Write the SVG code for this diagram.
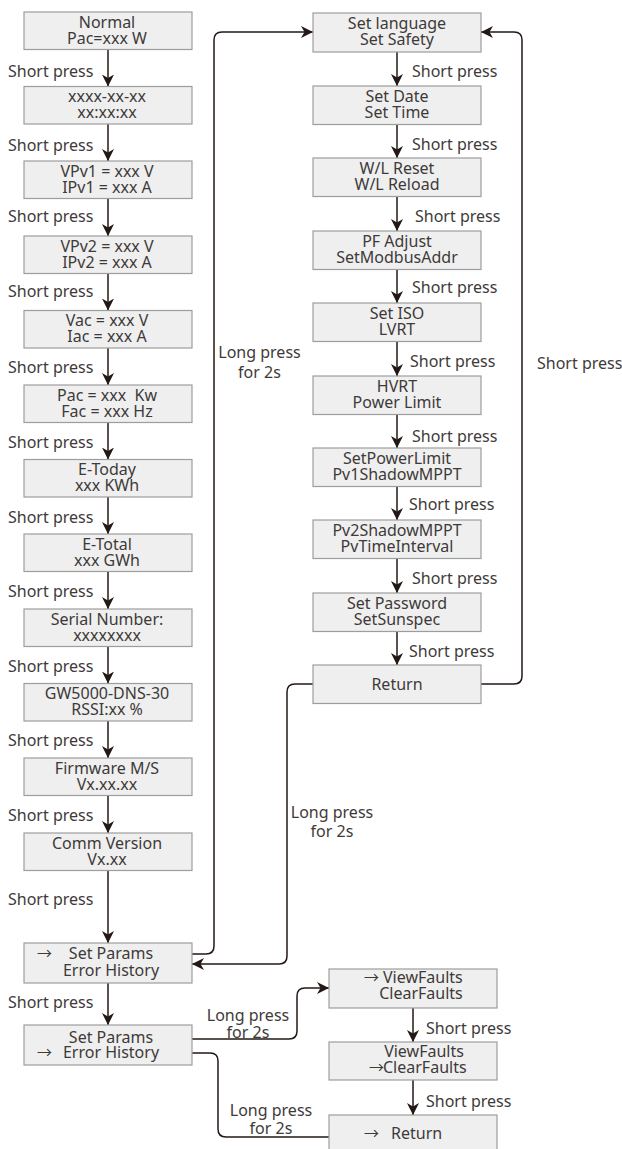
<svg xmlns="http://www.w3.org/2000/svg" width="622" height="1149" viewBox="0 0 622 1149">
<style>
.box{fill:#efefef;stroke:#9d9d9e;stroke-width:1.2}
text{font-family:"Noto Sans","Open Sans","Liberation Sans",sans-serif;font-size:16px;fill:#3e3a39}
.c{text-anchor:middle}
.arw{font-family:"Noto Sans CJK SC","Noto Sans",sans-serif;font-size:15px}
.ln{fill:none;stroke:#231815;stroke-width:1.5}
.ar{fill:none;stroke:#231815;stroke-width:1.5;marker-end:url(#ah)}
</style>
<defs>
<marker id="ah" viewBox="0 0 12 12" refX="12" refY="6" markerWidth="12" markerHeight="12" markerUnits="userSpaceOnUse" orient="auto">
<path d="M0,0 L12,6 L0,12 L3.5,6 Z" fill="#231815"/>
</marker>
</defs>
<g id="connectors">
<line class="ar" x1="108" y1="49.5" x2="108" y2="86.5"/>
<line class="ar" x1="108" y1="124" x2="108" y2="161"/>
<line class="ar" x1="108" y1="198.5" x2="108" y2="236"/>
<line class="ar" x1="108" y1="273.5" x2="108" y2="310.5"/>
<line class="ar" x1="108" y1="348" x2="108" y2="385"/>
<line class="ar" x1="108" y1="422.5" x2="108" y2="459.5"/>
<line class="ar" x1="108" y1="497" x2="108" y2="534"/>
<line class="ar" x1="108" y1="571.5" x2="108" y2="609"/>
<line class="ar" x1="108" y1="646.5" x2="108" y2="683.5"/>
<line class="ar" x1="108" y1="721" x2="108" y2="758"/>
<line class="ar" x1="108" y1="795.5" x2="108" y2="833"/>
<line class="ar" x1="108" y1="870.5" x2="108" y2="943"/>
<line class="ar" x1="108" y1="983" x2="108" y2="1025"/>
<line class="ar" x1="397" y1="52" x2="397" y2="86"/>
<line class="ar" x1="397" y1="124.5" x2="397" y2="158"/>
<line class="ar" x1="397" y1="196.5" x2="397" y2="231"/>
<line class="ar" x1="397" y1="269.5" x2="397" y2="303"/>
<line class="ar" x1="397" y1="341.5" x2="397" y2="376"/>
<line class="ar" x1="397" y1="414.5" x2="397" y2="448"/>
<line class="ar" x1="397" y1="486.5" x2="397" y2="520"/>
<line class="ar" x1="397" y1="558.5" x2="397" y2="593"/>
<line class="ar" x1="397" y1="631.5" x2="397" y2="665"/>
<line class="ar" x1="413" y1="1008" x2="413" y2="1042"/>
<line class="ar" x1="413" y1="1080" x2="413" y2="1115"/>
<path class="ar" d="M192,954 H206 Q214,954 214,946 V40 Q214,32 222,32 H313"/>
<path class="ar" d="M313,684 H295 Q287,684 287,692 V956 Q287,964 279,964 H192"/>
<path class="ar" d="M481,684 H514 Q522,684 522,676 V40 Q522,32 514,32 H481"/>
<path class="ar" d="M192,1039 H289 Q297,1039 297,1031 V996 Q297,988 305,988 H329"/>
<path class="ln" d="M192,1053 H210 Q218,1053 218,1061 V1129 Q218,1137 226,1137 H329"/>
</g>
<g id="labels">
<text x="8" y="77">Short press</text>
<text x="8" y="151">Short press</text>
<text x="8" y="222">Short press</text>
<text x="8" y="297">Short press</text>
<text x="8" y="373">Short press</text>
<text x="8" y="448">Short press</text>
<text x="8" y="523">Short press</text>
<text x="8" y="597">Short press</text>
<text x="8" y="672">Short press</text>
<text x="8" y="746">Short press</text>
<text x="8" y="821">Short press</text>
<text x="8" y="905">Short press</text>
<text x="8" y="1008">Short press</text>
<text x="412" y="77">Short press</text>
<text x="412" y="150">Short press</text>
<text x="415" y="222">Short press</text>
<text x="412" y="293">Short press</text>
<text x="410" y="367">Short press</text>
<text x="412" y="442">Short press</text>
<text x="409" y="510">Short press</text>
<text x="412" y="584">Short press</text>
<text x="409" y="657">Short press</text>
<text x="537" y="369">Short press</text>
<text x="426" y="1034">Short press</text>
<text x="426" y="1107">Short press</text>
<text class="c"><tspan x="259.5" y="358">Long press</tspan><tspan x="259.5" y="378">for 2s</tspan></text>
<text class="c"><tspan x="332" y="818">Long press</tspan><tspan x="332" y="837">for 2s</tspan></text>
<text class="c"><tspan x="248" y="1021">Long press</tspan><tspan x="248" y="1038">for 2s</tspan></text>
<text class="c"><tspan x="271" y="1116">Long press</tspan><tspan x="271" y="1134">for 2s</tspan></text>
</g>
<g id="n-normal"><rect class="box" x="24" y="12" width="168" height="37.5"/><text class="c"><tspan x="107" y="27.5">Normal</tspan><tspan x="107" y="43.5">Pac=xxx W</tspan></text></g>
<g id="n-date"><rect class="box" x="24" y="86.5" width="168" height="37.5"/><text class="c"><tspan x="107" y="102">xxxx-xx-xx</tspan><tspan x="107" y="118">xx:xx:xx</tspan></text></g>
<g id="n-pv1"><rect class="box" x="24" y="161" width="168" height="37.5"/><text class="c"><tspan x="107" y="176.5">VPv1 = xxx V</tspan><tspan x="107" y="192.5">IPv1 = xxx A</tspan></text></g>
<g id="n-pv2"><rect class="box" x="24" y="236" width="168" height="37.5"/><text class="c"><tspan x="107" y="251.5">VPv2 = xxx V</tspan><tspan x="107" y="267.5">IPv2 = xxx A</tspan></text></g>
<g id="n-ac"><rect class="box" x="24" y="310.5" width="168" height="37.5"/><text class="c"><tspan x="107" y="326">Vac = xxx V</tspan><tspan x="107" y="342">Iac = xxx A</tspan></text></g>
<g id="n-pac"><rect class="box" x="24" y="385" width="168" height="37.5"/><text class="c" xml:space="preserve"><tspan x="107" y="400.5">Pac = xxx  Kw</tspan><tspan x="107" y="416.5">Fac = xxx Hz</tspan></text></g>
<g id="n-etoday"><rect class="box" x="24" y="459.5" width="168" height="37.5"/><text class="c"><tspan x="107" y="475">E-Today</tspan><tspan x="107" y="491">xxx KWh</tspan></text></g>
<g id="n-etotal"><rect class="box" x="24" y="534" width="168" height="37.5"/><text class="c"><tspan x="107" y="549.5">E-Total</tspan><tspan x="107" y="565.5">xxx GWh</tspan></text></g>
<g id="n-serial"><rect class="box" x="24" y="609" width="168" height="37.5"/><text class="c"><tspan x="107" y="624.5">Serial Number:</tspan><tspan x="107" y="640.5">xxxxxxxx</tspan></text></g>
<g id="n-model"><rect class="box" x="24" y="683.5" width="168" height="37.5"/><text class="c"><tspan x="107" y="699">GW5000-DNS-30</tspan><tspan x="107" y="715">RSSI:xx %</tspan></text></g>
<g id="n-firmware"><rect class="box" x="24" y="758" width="168" height="37.5"/><text class="c"><tspan x="107" y="773.5">Firmware M/S</tspan><tspan x="107" y="789.5">Vx.xx.xx</tspan></text></g>
<g id="n-comm"><rect class="box" x="24" y="833" width="168" height="37.5"/><text class="c"><tspan x="107" y="848.5">Comm Version</tspan><tspan x="107" y="864.5">Vx.xx</tspan></text></g>
<g id="n-setparams1"><rect class="box" x="24" y="943" width="168" height="40"/><text><tspan class="arw" x="37" y="959">→</tspan><tspan class="c" x="111" y="959">Set Params</tspan><tspan class="c" x="111" y="976">Error History</tspan></text></g>
<g id="n-setparams2"><rect class="box" x="24" y="1025" width="168" height="40"/><text><tspan class="c" x="111" y="1043">Set Params</tspan><tspan class="arw" x="37" y="1058">→</tspan><tspan class="c" x="111" y="1058">Error History</tspan></text></g>
<g id="n-language"><rect class="box" x="313" y="13" width="168" height="39"/><text class="c"><tspan x="397" y="29">Set language</tspan><tspan x="397" y="45">Set Safety</tspan></text></g>
<g id="n-datetime"><rect class="box" x="313" y="86" width="168" height="38.5"/><text class="c"><tspan x="397" y="102">Set Date</tspan><tspan x="397" y="118">Set Time</tspan></text></g>
<g id="n-wl"><rect class="box" x="313" y="158" width="168" height="38.5"/><text class="c"><tspan x="397" y="174">W/L Reset</tspan><tspan x="397" y="190">W/L Reload</tspan></text></g>
<g id="n-pf"><rect class="box" x="313" y="231" width="168" height="38.5"/><text class="c"><tspan x="397" y="247">PF Adjust</tspan><tspan x="397" y="263">SetModbusAddr</tspan></text></g>
<g id="n-iso"><rect class="box" x="313" y="303" width="168" height="38.5"/><text class="c"><tspan x="397" y="319">Set ISO</tspan><tspan x="397" y="335">LVRT</tspan></text></g>
<g id="n-hvrt"><rect class="box" x="313" y="376" width="168" height="38.5"/><text class="c"><tspan x="397" y="392">HVRT</tspan><tspan x="397" y="408">Power Limit</tspan></text></g>
<g id="n-powerlimit"><rect class="box" x="313" y="448" width="168" height="38.5"/><text class="c"><tspan x="397" y="464">SetPowerLimit</tspan><tspan x="397" y="480">Pv1ShadowMPPT</tspan></text></g>
<g id="n-pv2shadow"><rect class="box" x="313" y="520" width="168" height="38.5"/><text class="c"><tspan x="397" y="536">Pv2ShadowMPPT</tspan><tspan x="397" y="552">PvTimeInterval</tspan></text></g>
<g id="n-password"><rect class="box" x="313" y="593" width="168" height="38.5"/><text class="c"><tspan x="397" y="609">Set Password</tspan><tspan x="397" y="625">SetSunspec</tspan></text></g>
<g id="n-return"><rect class="box" x="313" y="665" width="168" height="38.5"/><text class="c" x="397" y="689.5">Return</text></g>
<g id="n-viewfaults"><rect class="box" x="329" y="969" width="168" height="39"/><text><tspan class="arw" x="364" y="983">→</tspan><tspan x="383" y="983">ViewFaults</tspan><tspan class="c" x="421" y="999">ClearFaults</tspan></text></g>
<g id="n-clearfaults"><rect class="box" x="329" y="1042" width="168" height="38"/><text><tspan class="c" x="424" y="1057">ViewFaults</tspan><tspan class="arw" x="369" y="1073">→</tspan><tspan x="383" y="1073">ClearFaults</tspan></text></g>
<g id="n-return2"><rect class="box" x="329" y="1115" width="168" height="38"/><text><tspan class="arw" x="364" y="1139">→</tspan><tspan x="391" y="1139">Return</tspan></text></g>
</svg>
